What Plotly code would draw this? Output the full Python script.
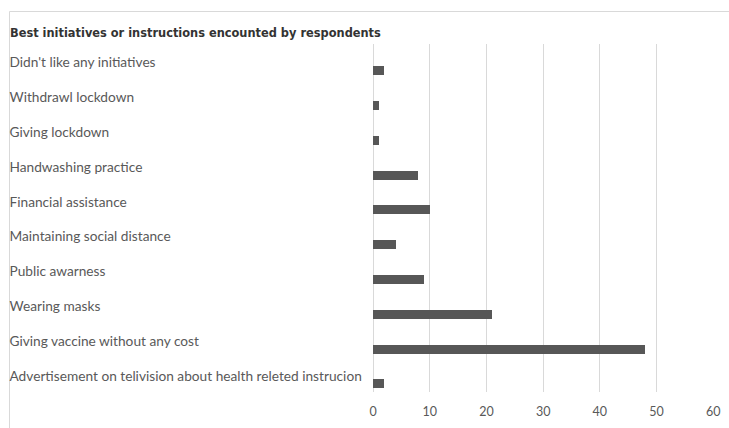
import plotly.graph_objects as go

# Survey responses: best initiatives or instructions encountered
initiatives = [
    "Didn't like any initiatives",
    "Withdrawl lockdown",
    "Giving lockdown",
    "Handwashing practice",
    "Financial assistance",
    "Maintaining social distance",
    "Public awarness",
    "Wearing masks",
    "Giving vaccine without any cost",
    "Advertisement on telivision about health releted instrucion",
]
respondents = [2, 1, 1, 8, 10, 4, 9, 21, 48, 2]
x_ticks = [0, 10, 20, 30, 40, 50, 60]

W, H = 729, 428
PLOT_L, PLOT_R = 373, 713.3
PLOT_T, PLOT_B = 44, 392
FRAME_L, FRAME_T = 9.5, 11.5

def px_x(p):
    return p / W

def px_y(p):
    return 1 - p / H

BAR_COLOR = "#575757"
TEXT_GRAY = "#595959"
GRID = "#d9d9d9"

fig = go.Figure()

fig.add_trace(go.Bar(
    x=respondents,
    y=initiatives,
    orientation="h",
    marker=dict(color=BAR_COLOR, line=dict(width=0)),
    width=0.259,
    offset=0.138,
    hoverinfo="x+y",
    showlegend=False,
))

# Category labels, left-aligned inside the chart frame
fig.add_trace(go.Scatter(
    x=[FRAME_L] * len(initiatives),
    y=initiatives,
    mode="text",
    text=initiatives,
    textposition="middle right",
    textfont=dict(family="Lato", size=13.7, color=TEXT_GRAY),
    cliponaxis=False,
    xaxis="x2",
    yaxis="y2",
    hoverinfo="skip",
    showlegend=False,
))

fig.update_layout(
    width=W,
    height=H,
    margin=dict(l=0, r=0, t=0, b=0, autoexpand=False),
    paper_bgcolor="white",
    plot_bgcolor="white",
    bargap=0,
    xaxis=dict(
        domain=[px_x(PLOT_L), px_x(PLOT_R)],
        range=[0, 60],
        tickvals=x_ticks,
        ticktext=[str(v) for v in x_ticks],
        showgrid=True,
        gridcolor=GRID,
        gridwidth=1,
        zeroline=True,
        zerolinecolor=GRID,
        zerolinewidth=1,
        showline=False,
        ticks="",
        ticklabelstandoff=10,
        tickfont=dict(family="Lato", size=12.5, color=TEXT_GRAY),
        anchor="y",
        automargin=False,
        fixedrange=True,
    ),
    xaxis2=dict(
        domain=[px_x(FRAME_L), px_x(PLOT_L)],
        range=[FRAME_L, PLOT_L],
        visible=False,
        anchor="y2",
        fixedrange=True,
    ),
    yaxis=dict(
        domain=[px_y(PLOT_B), px_y(PLOT_T)],
        range=[len(initiatives) - 0.5, -0.5],
        type="category",
        showticklabels=False,
        showgrid=False,
        zeroline=False,
        showline=False,
        ticks="",
        automargin=False,
        fixedrange=True,
    ),
    yaxis2=dict(
        domain=[px_y(PLOT_B + 2.5), px_y(PLOT_T + 2.5)],
        range=[len(initiatives) - 0.5, -0.5],
        type="category",
        categoryorder="array",
        categoryarray=initiatives,
        visible=False,
        anchor="x2",
        fixedrange=True,
    ),
    shapes=[dict(
        type="rect",
        xref="paper", yref="paper",
        x0=px_x(FRAME_L), x1=1.02,
        y0=-0.02, y1=px_y(FRAME_T),
        line=dict(color=GRID, width=1),
        fillcolor="rgba(0,0,0,0)",
        layer="below",
    )],
    annotations=[dict(
        text="<b>Best initiatives or instructions encounted by respondents</b>",
        xref="paper", yref="paper",
        x=px_x(8), y=px_y(33),
        xanchor="left", yanchor="middle",
        showarrow=False,
        font=dict(family="DejaVu Sans", size=11.4, color="#333333"),
    )],
)

fig.write_html("out.html")
